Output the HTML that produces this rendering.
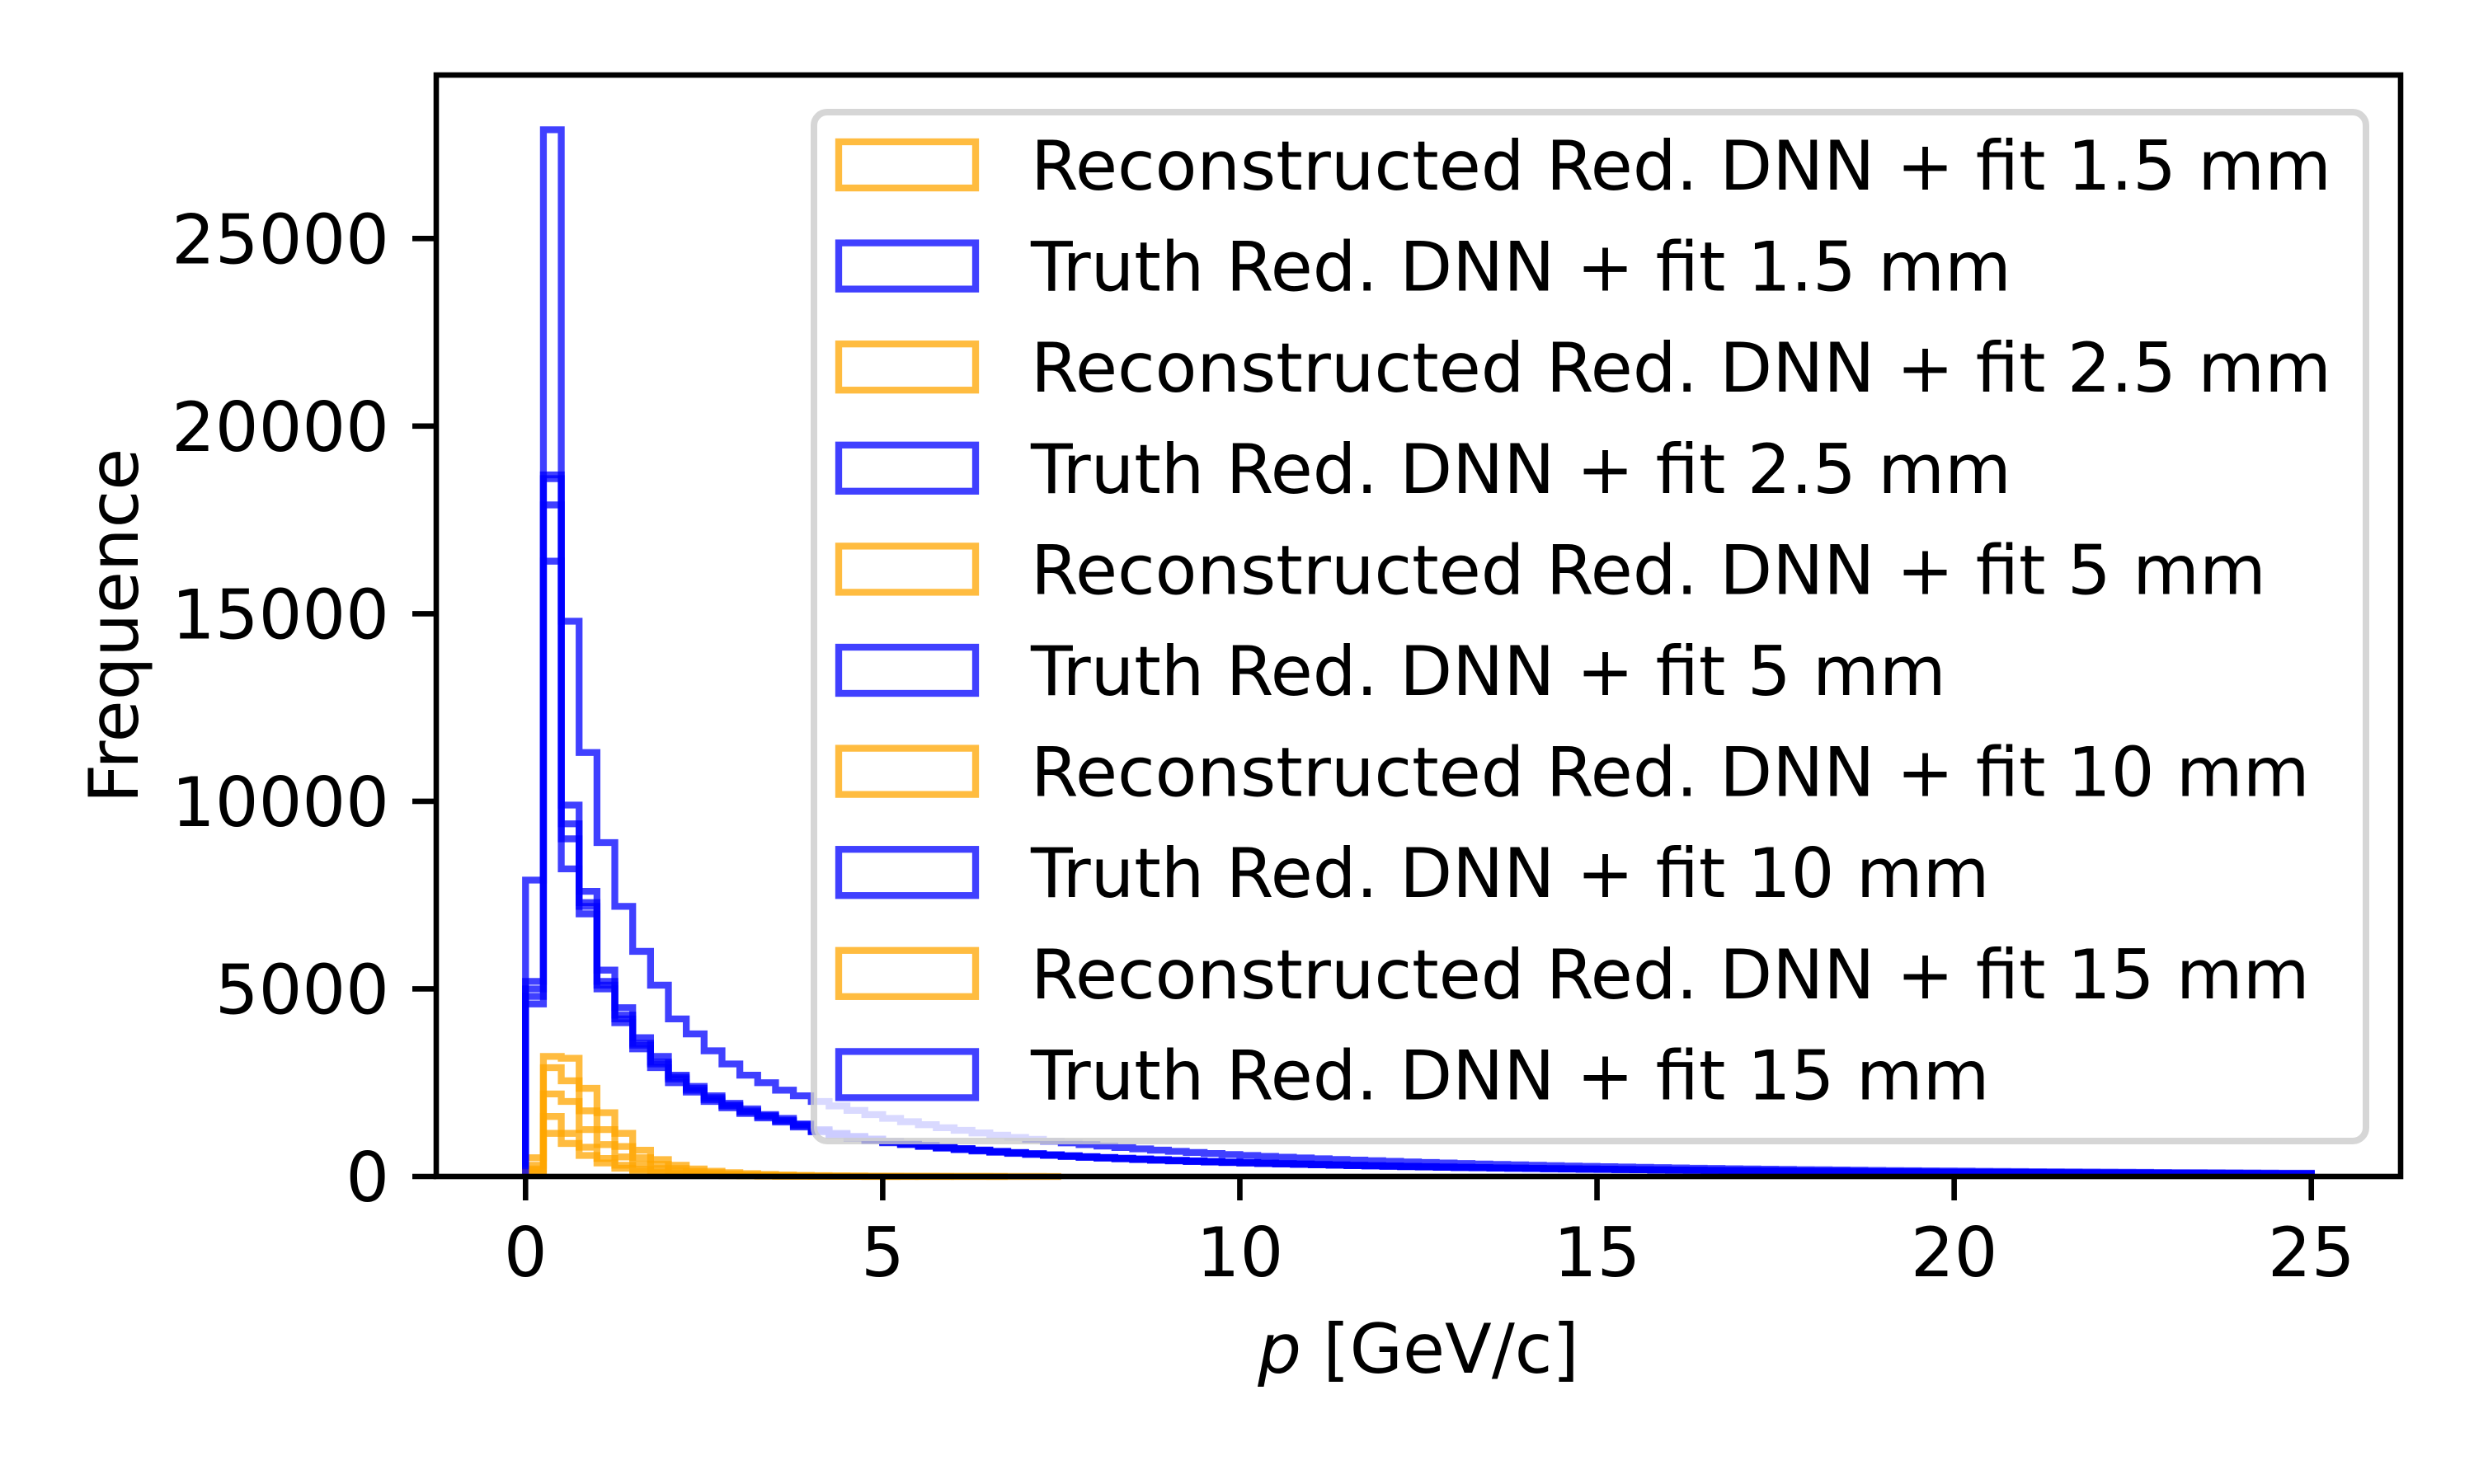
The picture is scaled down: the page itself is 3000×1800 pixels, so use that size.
<!DOCTYPE html>
<html><head><meta charset="utf-8"><style>
html,body{margin:0;padding:0;background:#fff}
svg{display:block}
text{font-family:"DejaVu Sans","Liberation Sans",sans-serif;font-size:83px;fill:#000}
</style></head><body>
<svg id="chart" width="3000" height="1800" viewBox="0 0 3000 1800" xmlns="http://www.w3.org/2000/svg">
<rect x="0" y="0" width="3000" height="1800" fill="#fff"/>
<g id="plot"></g>
<g id="axes"></g>
<g id="legend"></g>
</svg>
<script>
const binWidth = 0.25;
const xTicks = [0, 5, 10, 15, 20, 25];
const yTicks = [0, 5000, 10000, 15000, 20000, 25000];
const seriesLabels = ["Reconstructed Red. DNN + fit 1.5 mm","Truth Red. DNN + fit 1.5 mm","Reconstructed Red. DNN + fit 2.5 mm","Truth Red. DNN + fit 2.5 mm","Reconstructed Red. DNN + fit 5 mm","Truth Red. DNN + fit 5 mm","Reconstructed Red. DNN + fit 10 mm","Truth Red. DNN + fit 10 mm","Reconstructed Red. DNN + fit 15 mm","Truth Red. DNN + fit 15 mm"];
const reco15 = [500,3200,3150,2350,1700,1150,700,450,300,200,140,100,75,55,40,30,22,16,12,9,7,5,4,3,2,2,1,1,1,0];
const truth15 = [5200,27900,9900,7600,5500,4500,3700,3200,2700,2400,2150,1950,1800,1650,1550,1400,1250,1150,1070,1000,940,880,830,785,745,705,670,640,610,580,555,530,508,488,468,450,432,416,400,385,372,358,346,334,322,311,300,290,280,271,262,254,246,238,231,224,217,211,205,199,193,188,183,178,173,168,164,160,156,152,148,144,141,137,134,130,127,124,121,118,115,112,109,107,104,102,99,97,95,92,90,88,86,84,82,80,78,76,74,72];
const reco25 = [300,2900,2550,1750,1250,800,500,320,210,140,100,70,50,36,26,19,14,10,7,5,4,3,2,2,1,1,0];
const truth25 = [7900,18600,14800,11300,8900,7200,6000,5100,4200,3800,3350,3000,2700,2500,2300,2150,2000,1880,1760,1650,1550,1460,1380,1300,1230,1160,1100,1040,990,940,895,850,810,772,736,702,670,640,612,585,560,536,514,493,473,454,436,419,403,388,373,359,346,333,321,310,299,288,278,269,260,251,243,235,227,220,213,206,200,194,188,182,177,172,167,162,157,153,149,145,141,137,133,130,126,123,120,117,114,111,108,105,102,100,97,95,92,90,88,86];
const reco5 = [200,2200,2000,1250,850,520,330,210,140,95,65,45,32,23,17,12,9,6,4,3,2,2,1,0];
const truth5 = [5000,17900,9400,7300,5200,4300,3500,3000,2600,2300,2050,1880,1720,1600,1480,1350,1210,1120,1040,975,915,860,810,765,725,690,655,625,595,568,540,516,495,475,456,438,421,405,390,376,362,349,337,325,314,303,293,283,274,265,256,248,240,233,226,219,212,206,200,194,189,184,179,174,169,165,160,156,152,148,144,140,137,133,130,127,124,121,118,115,112,109,107,104,102,99,97,95,92,90,88,86,84,82,80,78,76,74,72,70];
const reco10 = [150,1600,1150,780,480,300,190,120,80,55,38,27,19,14,10,7,5,4,3,2,1,0];
const truth10 = [4800,16400,8200,7000,5000,4100,3400,2900,2500,2250,2000,1830,1680,1560,1450,1320,1190,1100,1025,960,900,848,800,756,716,680,646,616,588,560,534,510,489,469,450,432,416,400,385,371,358,345,333,321,310,300,290,280,271,262,254,246,238,231,224,217,211,205,199,193,188,183,178,173,168,164,160,156,152,148,144,140,136,133,130,127,124,121,118,115,112,109,107,104,101,99,96,94,92,90,88,86,84,82,80,78,76,74,72,70];
const reco15mm = [100,1150,880,560,360,220,140,90,60,40,28,20,14,10,7,5,4,3,2,1,0];
const truth15mm = [4600,18700,9000,7200,5100,4200,3550,3050,2650,2350,2100,1900,1750,1620,1500,1380,1230,1135,1055,988,928,872,822,777,737,700,666,635,605,576,548,523,501,481,462,444,427,410,395,380,366,353,340,328,317,306,296,286,277,268,259,251,243,235,228,221,214,208,202,196,191,186,181,176,171,166,162,158,154,150,146,142,138,135,132,128,125,122,119,116,113,110,108,105,103,100,98,96,93,91,89,87,85,83,81,79,77,75,73,71];

const NS = "http://www.w3.org/2000/svg";
const L = 529, R = 2911, T = 91, B = 1427;
const xMin = -1.25, xMax = 26.25, yMin = 0, yMax = 29358;
function xs(v){ return L + (v - xMin) / (xMax - xMin) * (R - L); }
function ys(v){ return B - (v - yMin) / (yMax - yMin) * (B - T); }
const ORANGE = "#ffa500", BLUE = "#0000ff";
const allSeries = [reco15, truth15, reco25, truth25, reco5, truth5, reco10, truth10, reco15mm, truth15mm];
const seriesNames = ["reco-1p5mm","truth-1p5mm","reco-2p5mm","truth-2p5mm","reco-5mm","truth-5mm","reco-10mm","truth-10mm","reco-15mm","truth-15mm"];

const plot = document.getElementById('plot');
allSeries.forEach((vals, k) => {
  let d = "M" + xs(0) + " " + ys(0);
  vals.forEach((v, i) => {
    d += " L" + xs(i*binWidth) + " " + ys(v) + " L" + xs((i+1)*binWidth) + " " + ys(v);
  });
  d += " L" + xs(vals.length*binWidth) + " " + ys(0);
  const p = document.createElementNS(NS, 'path');
  p.setAttribute('d', d);
  p.setAttribute('fill', 'none');
  p.setAttribute('stroke', k % 2 === 0 ? ORANGE : BLUE);
  p.setAttribute('stroke-opacity', '0.75');
  p.setAttribute('stroke-width', '8.3');
  p.setAttribute('stroke-linejoin', 'miter');
  
  
  plot.appendChild(p);
});

const axes = document.getElementById('axes');
const frame = document.createElementNS(NS, 'rect');
frame.setAttribute('x', L); frame.setAttribute('y', T);
frame.setAttribute('width', R - L); frame.setAttribute('height', B - T);
frame.setAttribute('fill', 'none'); frame.setAttribute('stroke', '#000'); frame.setAttribute('stroke-width', '6.6');


axes.appendChild(frame);

xTicks.forEach(t => {
  const ln = document.createElementNS(NS, 'line');
  ln.setAttribute('x1', xs(t)); ln.setAttribute('x2', xs(t));
  ln.setAttribute('y1', B); ln.setAttribute('y2', B + 29);
  ln.setAttribute('stroke', '#000'); ln.setAttribute('stroke-width', '6.6');
  
  
  axes.appendChild(ln);
  const tx = document.createElementNS(NS, 'text');
  tx.setAttribute('x', xs(t)); tx.setAttribute('y', 1548);
  tx.setAttribute('text-anchor', 'middle');
  tx.textContent = String(t);
  
  
  axes.appendChild(tx);
});
yTicks.forEach(t => {
  const ln = document.createElementNS(NS, 'line');
  ln.setAttribute('x1', L - 29); ln.setAttribute('x2', L);
  ln.setAttribute('y1', ys(t)); ln.setAttribute('y2', ys(t));
  ln.setAttribute('stroke', '#000'); ln.setAttribute('stroke-width', '6.6');
  
  
  axes.appendChild(ln);
  const tx = document.createElementNS(NS, 'text');
  tx.setAttribute('x', 472); tx.setAttribute('y', ys(t) + 30);
  tx.setAttribute('text-anchor', 'end');
  tx.textContent = String(t);
  
  
  axes.appendChild(tx);
});
const xl = document.createElementNS(NS, 'text');
xl.setAttribute('x', (L + R) / 2); xl.setAttribute('y', 1665);
xl.setAttribute('text-anchor', 'middle');
xl.innerHTML = '<tspan font-style="italic">p</tspan> [GeV/c]';


axes.appendChild(xl);
const yl = document.createElementNS(NS, 'text');
yl.setAttribute('x', 0); yl.setAttribute('y', 0);
yl.setAttribute('text-anchor', 'middle');
yl.setAttribute('transform', 'translate(167 ' + ((T + B) / 2) + ') rotate(-90)');
yl.textContent = 'Frequence';


axes.appendChild(yl);

const lg = document.getElementById('legend');
const box = document.createElementNS(NS, 'rect');
box.setAttribute('x', 987); box.setAttribute('y', 136);
box.setAttribute('width', 1882); box.setAttribute('height', 1248);
box.setAttribute('rx', 16);
box.setAttribute('fill', '#fff'); box.setAttribute('fill-opacity', '0.8');
box.setAttribute('stroke', '#cccccc'); box.setAttribute('stroke-opacity', '0.8'); box.setAttribute('stroke-width', '8');


lg.appendChild(box);
seriesLabels.forEach((lab, i) => {
  const g = document.createElementNS(NS, 'g');
  
  
  const r = document.createElementNS(NS, 'rect');
  r.setAttribute('x', 1017); r.setAttribute('y', 172 + 122.6 * i);
  r.setAttribute('width', 166); r.setAttribute('height', 56);
  r.setAttribute('fill', 'none');
  r.setAttribute('stroke', i % 2 === 0 ? ORANGE : BLUE);
  r.setAttribute('stroke-opacity', '0.75');
  r.setAttribute('stroke-width', '8.3');
  
  
  g.appendChild(r);
  const t = document.createElementNS(NS, 'text');
  t.setAttribute('x', 1250); t.setAttribute('y', 230 + 122.6 * i);
  t.textContent = lab;
  
  
  g.appendChild(t);
  lg.appendChild(g);
});
</script>
</body></html>
